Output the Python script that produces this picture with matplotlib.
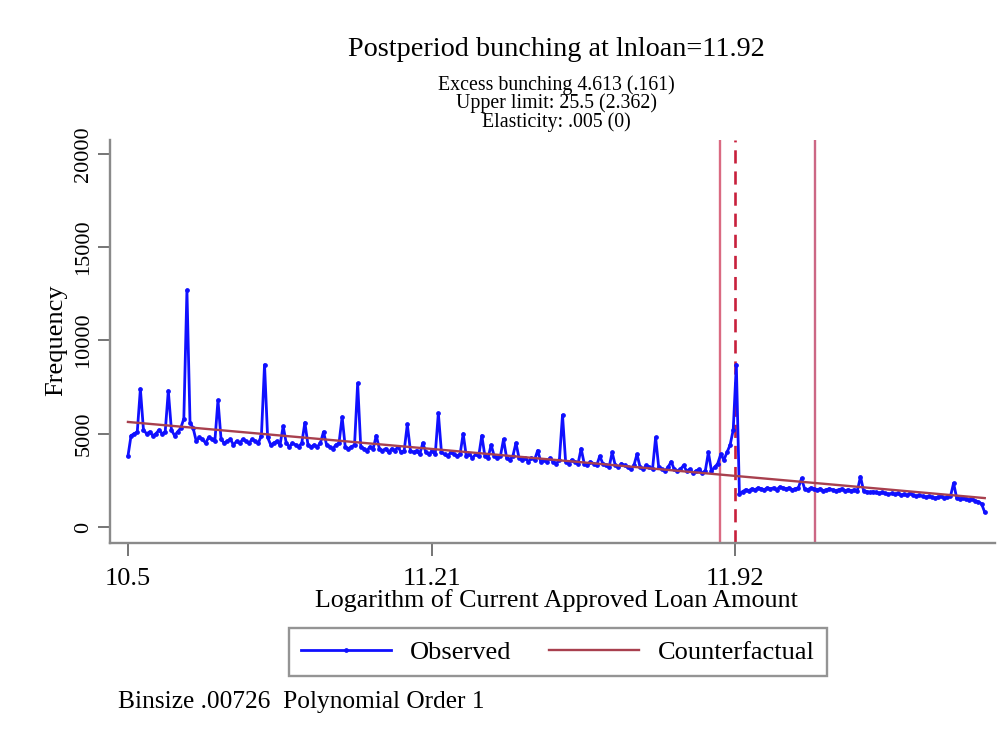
import numpy as np
import matplotlib
matplotlib.use("Agg")
import matplotlib.pyplot as plt
from matplotlib.lines import Line2D

# Bunching estimate around the 11.92 threshold (log loan amount)
binsize = 0.00726
x_start = 10.5
threshold = 11.92
window_low = 11.885
window_high = 12.107

# Observed bin counts, one value per bin starting at ln(loan) = 10.5
observed = [
    3800, 4900, 5000, 5100, 7400, 5200, 5000, 5100, 4900, 5000,
    5200, 5000, 5100, 7300, 5200, 4900, 5100, 5300, 5800, 12700,
    5600, 5300, 4600, 4800, 4700, 4500, 4800, 4700, 4600, 6800,
    4700, 4500, 4600, 4700, 4400, 4600, 4500, 4700, 4600, 4500,
    4700, 4600, 4500, 4900, 8700, 4800, 4400, 4500, 4600, 4400,
    5400, 4500, 4300, 4500, 4400, 4300, 4500, 5600, 4400, 4300,
    4400, 4300, 4500, 5100, 4400, 4300, 4200, 4400, 4500, 5900,
    4300, 4200, 4300, 4400, 7700, 4300, 4200, 4100, 4300, 4200,
    4900, 4200, 4100, 4200, 4000, 4200, 4100, 4300, 4000, 4100,
    5500, 4100, 4000, 4100, 3900, 4500, 4000, 3900, 4100, 3900,
    6100, 4000, 3900, 3800, 4000, 3900, 3800, 3900, 5000, 3800,
    3900, 3700, 3900, 3800, 4900, 3800, 3700, 4400, 3800, 3700,
    3800, 4700, 3700, 3600, 3800, 4500, 3700, 3600, 3700, 3500,
    3700, 3600, 4100, 3500, 3600, 3500, 3700, 3500, 3400, 3600,
    6000, 3500, 3400, 3600, 3500, 3400, 4200, 3400, 3300, 3500,
    3400, 3300, 3800, 3400, 3300, 3200, 4000, 3300, 3200, 3400,
    3300, 3200, 3100, 3300, 3900, 3200, 3100, 3300, 3200, 3100,
    4800, 3200, 3100, 3000, 3200, 3500, 3100, 3000, 3100, 3300,
    3000, 3100, 2900, 3000, 3100, 2900, 3000, 4000, 3000, 3200,
    3400, 3900, 3600, 4000, 4400, 5200, 8700,
    1750, 1900, 2000, 1950, 2050, 2000, 2100, 2050, 2000, 2100,
    2050, 2100, 2000, 2150, 2100, 2050, 2100, 2000, 2050, 2100,
    2600, 2050, 2000, 2100, 2050, 2000, 2050, 1950, 2000, 2050,
    2000, 1950, 2000, 2050, 1950, 2000, 1950, 2000, 1950, 2700,
    1950, 1900, 1850, 1900, 1850, 1800, 1850, 1800, 1750, 1800,
    1750, 1800, 1700, 1750, 1700, 1800, 1700, 1650, 1700, 1650,
    1600, 1650, 1600, 1550, 1600, 1650, 1550, 1600, 1650, 2350,
    1550, 1500, 1550, 1500, 1450, 1500, 1400, 1350, 1250, 800,
]

# Linear (order 1) counterfactual fit, given at its end points
cf_x = [10.5, 12.504]
cf_y = [5630, 1550]

title = "Postperiod bunching at lnloan=11.92"
subtitle = ["Excess bunching 4.613 (.161)",
            "Upper limit: 25.5 (2.362)",
            "Elasticity: .005 (0)"]
x_ticks = [10.5, 11.21, 11.92]
x_ticklabels = ["10.5", "11.21", "11.92"]
y_ticks = [0, 5000, 10000, 15000, 20000]
y_ticklabels = ["0", "5000", "10000", "15000", "20000"]
x_label = "Logarithm of Current Approved Loan Amount"
y_label = "Frequency"
note = "Binsize .00726  Polynomial Order 1"
legend_labels = ["Observed", "Counterfactual"]

plt.rcParams["font.family"] = ["Liberation Serif", "DejaVu Serif"]

W, H = 1002, 729
x_bins = x_start + binsize * np.arange(len(observed))

fig = plt.figure(figsize=(W / 100, H / 100), dpi=100)
ax = fig.add_axes([110 / W, 1 - 543 / H, 885 / W, 403 / H])

ax.axvline(window_low, color="#da6a82", lw=1.7, zorder=1)
ax.axvline(window_high, color="#cc6784", lw=1.7, zorder=1)
ax.axvline(threshold, color="#c8203c", lw=1.9, ls=(0, (5, 3)), zorder=1)

obs_col = "#1010ff"
cf_col = "#a8404e"
ax.plot(x_bins, observed, color=obs_col, lw=2.0, marker="o", ms=2.4,
        mec=obs_col, mfc=obs_col, zorder=3)
ax.plot(cf_x, cf_y, color=cf_col, lw=1.7, zorder=4)

ax.set_xlim(10.458, 12.528)
ax.set_ylim(-857, 20740)

for side in ("top", "right"):
    ax.spines[side].set_visible(False)
for side in ("left", "bottom"):
    ax.spines[side].set_color("#8a8a8a")
    ax.spines[side].set_linewidth(1.7)

ax.set_xticks(x_ticks)
ax.set_xticklabels(x_ticklabels, fontsize=19)
ax.set_yticks(y_ticks)
ax.set_yticklabels(y_ticklabels, fontsize=16, rotation=90, va="center")
ax.tick_params(axis="both", length=9, width=1.3, color="#6a6a6a")
ax.tick_params(axis="x", pad=9)
ax.tick_params(axis="y", pad=3)

fig.text(556 / W, 1 - 601 / H, x_label, ha="center", va="center", fontsize=18.7)
fig.text(56 / W, 1 - 340 / H, y_label, ha="center", va="center", rotation=90,
         fontsize=19)

fig.text(556 / W, 1 - 49 / H, title, ha="center", va="center", fontsize=20.3)
for i, line in enumerate(subtitle):
    fig.text(556 / W, 1 - (85 + 18.5 * i) / H, line, ha="center", va="center",
             fontsize=14.3)

handles = [Line2D([], [], color=obs_col, lw=2.0, marker="o", ms=2.4),
           Line2D([], [], color=cf_col, lw=1.7)]
leg = fig.legend(handles, legend_labels, loc="center",
                 bbox_to_anchor=(558 / W, 1 - 652 / H), ncol=2,
                 fontsize=19, frameon=True, fancybox=False, numpoints=1,
                 handlelength=3.4, columnspacing=1.4, borderpad=0.45,
                 handletextpad=0.75, borderaxespad=0)
leg.get_frame().set_edgecolor("#7a7a7a")
leg.get_frame().set_linewidth(1.7)

fig.text(118 / W, 1 - 702 / H, note, ha="left", va="center", fontsize=18.3)

fig.savefig("out.png", dpi=100)
